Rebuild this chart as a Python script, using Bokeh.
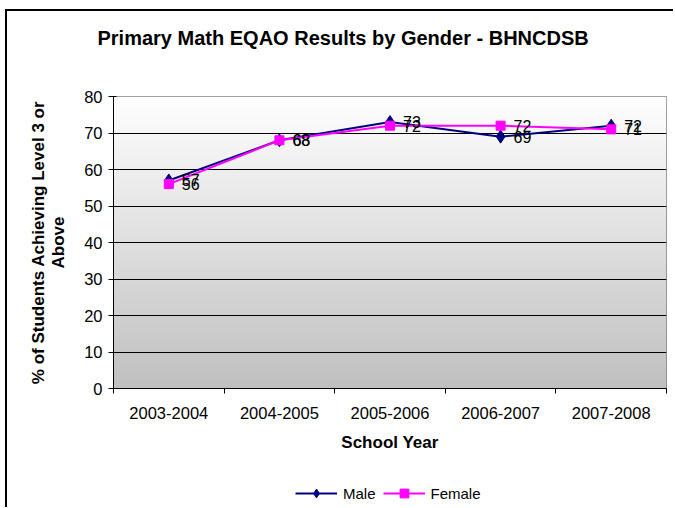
import numpy as np
from bokeh.plotting import figure
from bokeh.layouts import column
from bokeh.models import (Range1d, FixedTicker, Legend, LegendItem, Title,
                          ColumnDataSource)
from bokeh.core.properties import value
from bokeh.embed import file_html
from bokeh.resources import INLINE

# ---- data ----
years = ["2003-2004", "2004-2005", "2005-2006", "2006-2007", "2007-2008"]
male = [57, 68, 73, 69, 72]
female = [56, 68, 72, 72, 71]
y_ticks = [0, 10, 20, 30, 40, 50, 60, 70, 80]
series_names = ["Male", "Female"]
title_text = "Primary Math EQAO Results by Gender - BHNCDSB"
ytitle = "% of Students Achieving Level 3 or\nAbove"
xtitle = "School Year"

FONT = "Liberation Sans"
MALE_C = "#000080"
FEMALE_C = "#FF00FF"
xs = list(range(1, len(years) + 1))

p = figure(width=666, height=460, output_backend="svg", toolbar_location=None,
           title=None,
           x_range=Range1d(0.5, len(years) + 0.5), y_range=Range1d(0, 80),
           min_border_left=106, min_border_right=7, min_border_top=85,
           min_border_bottom=83, background_fill_color=None)
p.outline_line_color = "#808080"
p.outline_line_width = 1

# title (spacer first so the title sits higher)
p.add_layout(Title(text=" ", text_font_size="28px"), "above")
p.add_layout(Title(text=title_text, text_font=FONT, text_font_size="20px",
                   text_font_style="bold", align="left", offset=-16,
                   text_color="black"), "above")

# gradient plot-area background (style only)
grad = np.linspace(192, 255, 200).astype(np.uint32)
img = ((255 << 24) | (grad << 16) | (grad << 8) | grad).astype(np.uint32)
img = img.reshape(-1, 1)
ir = p.image_rgba(image=[img], x=0.5, y=0, dw=len(years), dh=80)
ir.level = "image"

# grid
p.xgrid.visible = False
p.ygrid.ticker = FixedTicker(ticks=y_ticks)
p.ygrid.grid_line_color = "black"
p.ygrid.grid_line_width = 1

# axes
p.yaxis.ticker = FixedTicker(ticks=y_ticks)
p.yaxis.axis_line_color = "black"
p.yaxis.major_tick_line_color = "black"
p.yaxis.major_tick_out = 5
p.yaxis.major_tick_in = 3
p.yaxis.minor_tick_line_color = None
p.yaxis.major_label_standoff = 6
p.yaxis.major_label_text_font = FONT
p.yaxis.major_label_text_font_size = "16.5px"
p.yaxis.major_label_text_color = "black"
p.yaxis.axis_label = ytitle
p.yaxis.axis_label_text_font = FONT
p.yaxis.axis_label_text_font_size = "17px"
p.yaxis.axis_label_text_font_style = "bold"
p.yaxis.axis_label_text_color = "black"
p.yaxis.axis_label_text_line_height = 1.05
p.yaxis.axis_label_standoff = 13

p.xaxis.ticker = FixedTicker(ticks=xs, minor_ticks=[x - 0.5 for x in xs] + [xs[-1] + 0.5])
p.xaxis.major_label_overrides = {x: yr for x, yr in zip(xs, years)}
p.xaxis.axis_line_color = "black"
p.xaxis.major_tick_line_color = None
p.xaxis.major_tick_out = 0
p.xaxis.major_tick_in = 0
p.xaxis.minor_tick_line_color = "black"
p.xaxis.minor_tick_out = 5
p.xaxis.minor_tick_in = 0
p.xaxis.major_label_standoff = 13
p.xaxis.major_label_text_font = FONT
p.xaxis.major_label_text_font_size = "16.5px"
p.xaxis.major_label_text_color = "black"
p.xaxis.axis_label = xtitle
p.xaxis.axis_label_text_font = FONT
p.xaxis.axis_label_text_font_size = "17px"
p.xaxis.axis_label_text_font_style = "bold"
p.xaxis.axis_label_text_color = "black"
p.xaxis.axis_label_standoff = 11

# series
src = ColumnDataSource(dict(x=xs, male=male, female=female,
                            mlab=[str(v) for v in male],
                            flab=[str(v) for v in female]))
p.line("x", "male", source=src, line_color=MALE_C, line_width=2)
p.scatter("x", "male", source=src, marker="diamond", size=13,
          fill_color=MALE_C, line_color=MALE_C)
p.line("x", "female", source=src, line_color=FEMALE_C, line_width=2)
p.scatter("x", "female", source=src, marker="square", size=9,
          fill_color=FEMALE_C, line_color=FEMALE_C)

for col, ycol in (("mlab", "male"), ("flab", "female")):
    p.text("x", ycol, text=col, source=src, x_offset=13, text_baseline="middle",
           text_align="left", text_font=value(FONT), text_font_size="16px",
           text_color="black")

# legend strip: a small figure whose own range hides the series,
# used only to draw the legend below the chart
lg = figure(width=666, height=36, output_backend="svg", toolbar_location=None,
            title=None, x_axis_type=None, y_axis_type=None,
            x_range=Range1d(0, 1), y_range=Range1d(0, 1),
            min_border_left=0, min_border_right=0, min_border_top=0,
            min_border_bottom=0, outline_line_color=None)
lg.grid.visible = False
l1 = lg.line("x", "male", source=src, line_color=MALE_C, line_width=2)
m1 = lg.scatter("x", "male", source=src, marker="diamond",
                size=13, fill_color=MALE_C, line_color=MALE_C)
l2 = lg.line("x", "female", source=src, line_color=FEMALE_C, line_width=2)
m2 = lg.scatter("x", "female", source=src, marker="square",
                size=9, fill_color=FEMALE_C, line_color=FEMALE_C)
legend = Legend(items=[LegendItem(label=series_names[0], renderers=[l1, m1]),
                       LegendItem(label=series_names[1], renderers=[l2, m2])],
                orientation="horizontal", location=(182, 3),
                glyph_width=42, glyph_height=22, label_height=16,
                label_standoff=6, spacing=7, padding=0, margin=0,
                border_line_color=None, background_fill_alpha=0,
                label_text_font=FONT, label_text_font_size="15px",
                label_text_color="black")
lg.add_layout(legend)

layout = column(p, lg, spacing=0,
                styles={"margin-left": "5px", "margin-top": "9px",
                        "border-left": "2px solid black",
                        "border-top": "2px solid black"})

open("out.html", "w").write(file_html(layout, INLINE))
